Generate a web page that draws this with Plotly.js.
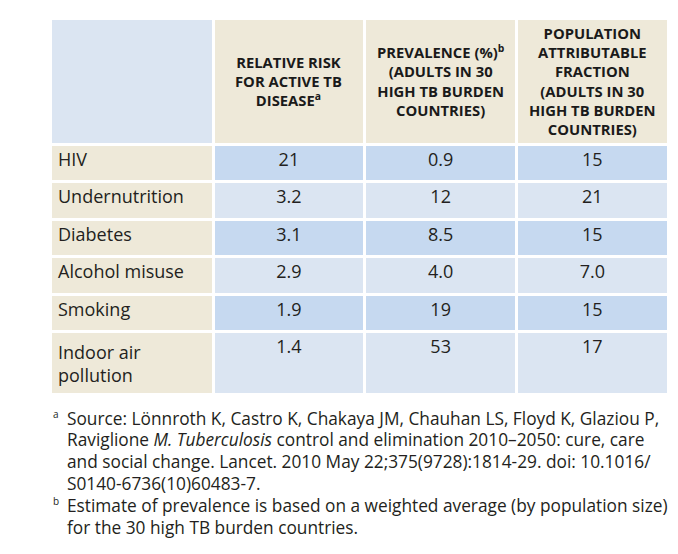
<!DOCTYPE html>
<html><head><meta charset="utf-8">
<script src="https://cdn.plot.ly/plotly-3.0.1.min.js"></script>
<style>html,body{margin:0;padding:0;background:#fff}</style>
</head><body>
<div id="chart" style="width:678px;height:554px"></div>
<script>
// ---- data ----
const headers = [
  '',
  'RELATIVE RISK<br>FOR ACTIVE TB<br>DISEASE<sup>a</sup>',
  'PREVALENCE (%)<sup>b</sup><br>(ADULTS IN 30<br>HIGH TB BURDEN<br>COUNTRIES)',
  'POPULATION<br>ATTRIBUTABLE<br>FRACTION<br>(ADULTS IN 30<br>HIGH TB BURDEN<br>COUNTRIES)'
];
const riskFactors = ['HIV','Undernutrition','Diabetes','Alcohol misuse','Smoking','Indoor air<br>pollution'];
const relativeRisk = ['21','3.2','3.1','2.9','1.9','1.4'];
const prevalence = ['0.9','12','8.5','4.0','19','53'];
const attributableFraction = ['15','21','15','7.0','15','17'];
const footnoteA = [
  'Source: Lönnroth K, Castro K, Chakaya JM, Chauhan LS, Floyd K, Glaziou P,',
  'Raviglione <i>M. Tuberculosis</i> control and elimination 2010–2050: cure, care',
  'and social change. Lancet. 2010 May 22;375(9728):1814-29. doi: 10.1016/',
  'S0140-6736(10)60483-7.'
];
const footnoteB = [
  'Estimate of prevalence is based on a weighted average (by population size)',
  'for the 30 high TB burden countries.'
];
const footnoteMarks = ['a', 'b'];

// ---- style ----
const W = 678, H = 554;
const beige = '#eee9d9', hdrBlue = '#dbe5f2', dark = '#c6d9f0', light = '#dbe5f2';
const rowFill = riskFactors.map((_, i) => i % 2 === 0 ? dark : light);
const tableLeft = 50, tableRight = 668, tableTop = 18;
const colW = [163, 151, 152, 151];
const headerH = 126;
const headerFont = {family: 'Open Sans', size: 14.8, color: '#1a1a1a', weight: 'bold'};
const textFont = {family: 'Open Sans', size: 18, color: '#231f20'};
const noteFont = {family: 'Open Sans', size: 17.3, color: '#231f20'};

const trace = {
  type: 'table',
  domain: {x: [tableLeft / W, tableRight / W], y: [0, 1 - tableTop / H]},
  columnwidth: colW,
  header: {
    values: headers.map(() => ''),
    height: headerH,
    fill: {color: [hdrBlue, beige, beige, beige]},
    line: {color: '#ffffff', width: 3},
    font: headerFont
  },
  cells: {
    values: [riskFactors, relativeRisk, prevalence, attributableFraction],
    align: ['left', 'center', 'center', 'center'],
    height: 37.5,
    fill: {color: [riskFactors.map(() => beige), rowFill, rowFill, rowFill]},
    line: {color: '#ffffff', width: 3},
    font: textFont
  }
};

// header labels: centered in each header cell (lines centered, block centered vertically)
const annotations = [];
const totalW = colW.reduce((a, b) => a + b, 0);
const scale = (tableRight - tableLeft) / totalW;
let acc = 0;
const headerMid = tableTop + headerH / 2;
headers.forEach((h, ci) => {
  const cx = tableLeft + (acc + colW[ci] / 2) * scale;
  acc += colW[ci];
  if (!h) return;
  annotations.push({xref: 'paper', yref: 'paper', x: cx / W, y: 1 - headerMid / H,
    xanchor: 'center', yanchor: 'middle', align: 'center', text: h, showarrow: false, font: headerFont});
});

// footnotes
const noteX = 65, markX = 51, noteTop = 418, noteGap = 21.8;
[footnoteA, footnoteB].forEach((note, ni) => {
  const start = noteTop + (ni === 0 ? 0 : footnoteA.length) * noteGap;
  annotations.push({xref: 'paper', yref: 'paper', x: markX / W, y: 1 - (start - 4) / H,
    xanchor: 'left', yanchor: 'middle', text: footnoteMarks[ni], showarrow: false,
    font: {family: 'Open Sans', size: 10, color: '#231f20'}});
  note.forEach((ln, li) => {
    annotations.push({xref: 'paper', yref: 'paper', x: noteX / W, y: 1 - (start + li * noteGap) / H,
      xanchor: 'left', yanchor: 'middle', align: 'left', text: ln, showarrow: false, font: noteFont});
  });
});

const layout = {
  width: W, height: H,
  margin: {l: 0, r: 0, t: 0, b: 0},
  paper_bgcolor: '#ffffff',
  showlegend: false,
  annotations: annotations
};

Plotly.newPlot('chart', [trace], layout, {displayModeBar: false, staticPlot: true});
</script>
</body></html>
